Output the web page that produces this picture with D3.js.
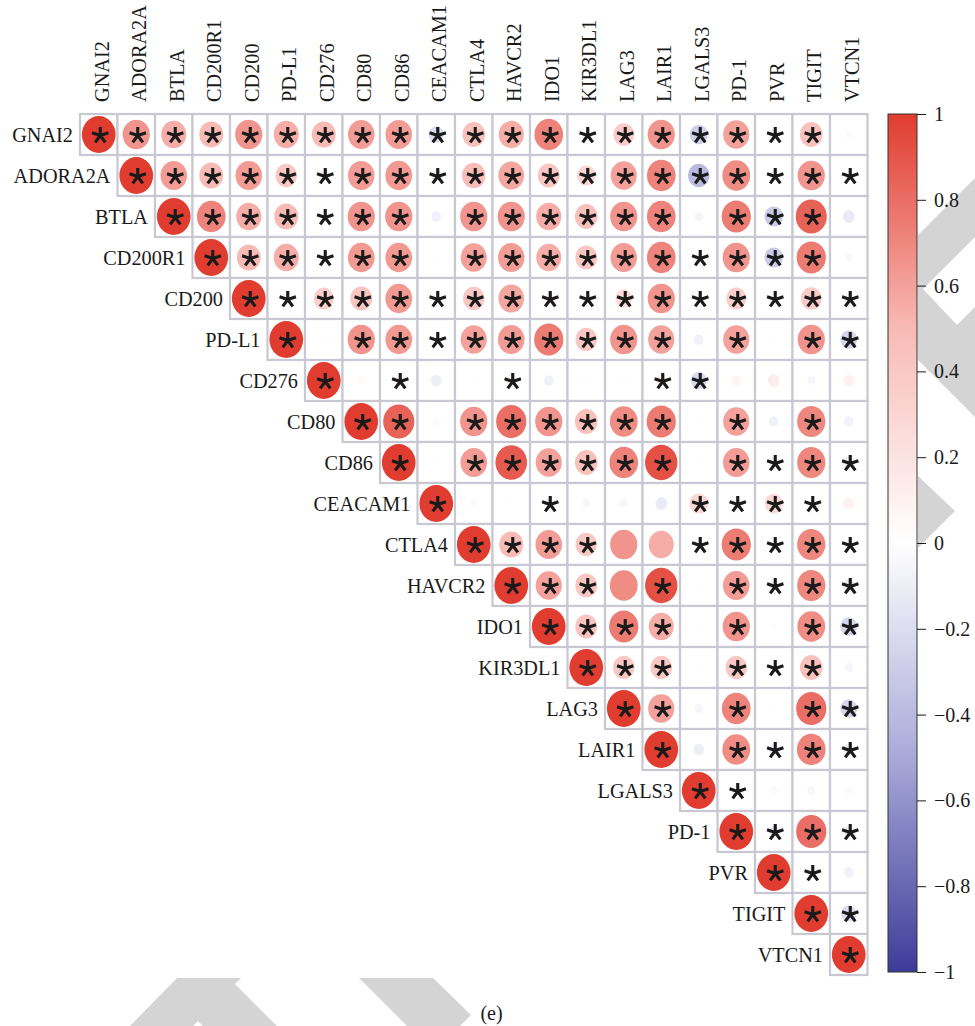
<!DOCTYPE html>
<html>
<head>
<meta charset="utf-8">
<script src="https://cdn.jsdelivr.net/npm/d3@7"></script>
<style>
  html, body { margin: 0; padding: 0; background: #ffffff; }
  svg { display: block; }
</style>
</head>
<body>
<svg id="chart" width="975" height="1026"></svg>
<script>
// Immune checkpoint genes, in matrix order
const genes = ["GNAI2", "ADORA2A", "BTLA", "CD200R1", "CD200", "PD-L1", "CD276", "CD80",
  "CD86", "CEACAM1", "CTLA4", "HAVCR2", "IDO1", "KIR3DL1", "LAG3", "LAIR1", "LGALS3",
  "PD-1", "PVR", "TIGIT", "VTCN1"];

// Upper triangle of the correlation matrix: row i holds r(i, j) for j = i+1 .. 20
const corrUpper = [
  [0.65, 0.55, 0.5, 0.65, 0.55, 0.5, 0.62, 0.62, -0.2, 0.45, 0.55, 0.72, 0.05, 0.38, 0.65, -0.28, 0.6, -0.05, 0.45, -0.03],
  [0.62, 0.5, 0.62, 0.4, 0.08, 0.62, 0.63, -0.1, 0.48, 0.58, 0.42, 0.3, 0.6, 0.72, -0.4, 0.68, 0.05, 0.65, 0.05],
  [0.72, 0.55, 0.5, 0.08, 0.65, 0.65, -0.08, 0.65, 0.65, 0.55, 0.45, 0.65, 0.72, -0.06, 0.75, -0.3, 0.85, -0.12],
  [0.5, 0.55, -0.05, 0.63, 0.63, 0.02, 0.6, 0.62, 0.55, 0.42, 0.62, 0.72, -0.06, 0.65, -0.3, 0.75, -0.04],
  [0.08, 0.35, 0.42, 0.63, 0.06, 0.4, 0.58, 0.08, 0.08, 0.25, 0.65, 0.05, 0.35, 0.05, 0.38, 0.07],
  [0.03, 0.65, 0.63, 0.06, 0.6, 0.62, 0.75, 0.4, 0.65, 0.6, -0.08, 0.6, 0.02, 0.65, -0.25],
  [0.05, 0.08, -0.1, 0.02, 0.1, -0.08, 0.03, 0.02, 0.1, -0.22, 0.08, 0.12, -0.05, 0.1],
  [0.85, 0.04, 0.65, 0.8, 0.65, 0.45, 0.68, 0.75, 0.02, 0.6, -0.08, 0.7, -0.08],
  [0.02, 0.62, 0.88, 0.6, 0.45, 0.72, 0.92, 0.02, 0.62, -0.06, 0.7, -0.1],
  [0.04, 0.02, 0.08, -0.05, -0.05, -0.12, 0.3, 0.05, 0.28, 0.06, 0.1],
  [0.5, 0.62, 0.4, 0.65, 0.55, 0.05, 0.75, 0.05, 0.7, 0.05],
  [0.6, 0.42, 0.68, 0.92, 0.02, 0.62, -0.08, 0.7, -0.12],
  [0.42, 0.75, 0.55, 0.02, 0.65, 0.02, 0.68, -0.25],
  [0.4, 0.4, 0.02, 0.4, 0.06, 0.45, -0.06],
  [0.6, -0.06, 0.72, 0.02, 0.8, -0.25],
  [-0.1, 0.68, -0.08, 0.72, -0.1],
  [0.08, 0.05, -0.05, 0.04],
  [-0.1, 0.8, -0.1],
  [0.07, -0.08],
  [-0.2],
  []
];

// Significance flags (p < 0.05 -> "1"), same layout as corrUpper
const sigUpper = [
  "11111111111111111110",
  "1111111111111111111",
  "111111011111101110",
  "11111011111111110",
  "1111111111111111",
  "011111111101011",
  "01001000110000",
  "1011111101010",
  "011111101111",
  "00100011110",
  "1110011111",
  "110101111",
  "11101011",
  "1101110",
  "101011",
  "01111",
  "1000",
  "111",
  "10",
  "1",
  ""
];

const legendTicks = [1, 0.8, 0.6, 0.4, 0.2, 0, -0.2, -0.4, -0.6, -0.8, -1];
const caption = "(e)";

const svg = d3.select("#chart");
const serif = "'Liberation Serif', 'Times New Roman', serif";

// Light background decoration
const deco = svg.append("g").attr("fill", "#d4d4d4");
[
  [[177, 978], [241, 978], [235, 984], [277, 1026], [203, 1026], [198, 1021], [193, 1026], [130, 1026]],
  [[359, 978], [433, 978], [471, 1015], [460, 1026], [407, 1026]],
  [[918, 235], [975, 178], [975, 237], [923, 289], [957, 325], [975, 307], [975, 417], [918, 360]],
  [[918, 476], [955, 511], [918, 548]]
].forEach(p => deco.append("polygon").attr("points", p.map(d => d.join(",")).join(" ")));

// Scales
const x = d3.scaleBand().domain(genes).range([80, 867.5]);
const y = d3.scaleBand().domain(genes).range([114, 975]);
const color = d3.scaleLinear()
  .domain([-1, -0.5, 0, 0.5, 1])
  .range(["#3c3c98", "#a9a9d9", "#ffffff", "#f8bab5", "#e03c2f"]);

// Build the cell list (diagonal + upper triangle)
const cells = [];
genes.forEach((gi, i) => {
  cells.push({ row: gi, col: gi, r: 1, sig: true });
  corrUpper[i].forEach((v, k) => {
    const j = i + 1 + k;
    cells.push({ row: gi, col: genes[j], r: v, sig: sigUpper[i][k] === "1" });
  });
});
const cx = d => x(d.col) + x.bandwidth() / 2;
const cy = d => y(d.row) + y.bandwidth() / 2;

svg.append("g").selectAll("rect").data(cells).join("rect")
  .attr("x", d => x(d.col)).attr("y", d => y(d.row))
  .attr("width", x.bandwidth()).attr("height", y.bandwidth())
  .attr("fill", "#ffffff").attr("stroke", "#c8c8d3").attr("stroke-width", 2.2);

// Circles: area proportional to |r|
svg.append("g").selectAll("ellipse").data(cells).join("ellipse")
  .attr("cx", cx).attr("cy", cy)
  .attr("rx", d => 0.45 * Math.sqrt(Math.abs(d.r)) * x.bandwidth())
  .attr("ry", d => 0.45 * Math.sqrt(Math.abs(d.r)) * y.bandwidth())
  .attr("fill", d => color(d.r));

// Significance marks: five-armed asterisk
const armLen = 8.6;
const starPath = d3.range(5).map(k => {
  const a = (-90 + 72 * k) * Math.PI / 180;
  return `M0,0L${(armLen * Math.cos(a)).toFixed(2)},${(armLen * Math.sin(a)).toFixed(2)}`;
}).join("");
svg.append("g").selectAll("path").data(cells.filter(d => d.sig)).join("path")
  .attr("transform", d => `translate(${cx(d) + 1.5},${cy(d) + 1})`)
  .attr("d", starPath)
  .attr("fill", "none").attr("stroke", "#1a1a1a").attr("stroke-width", 3.1);

// Row labels
svg.append("g").selectAll("text").data(genes).join("text")
  .attr("x", d => x(d) - 7)
  .attr("y", d => y(d) + y.bandwidth() / 2)
  .attr("dy", "0.35em")
  .attr("text-anchor", "end")
  .attr("font-family", serif).attr("font-size", 20.3).attr("fill", "#1a1a1a")
  .text(d => d);

// Column labels
svg.append("g").selectAll("text").data(genes).join("text")
  .attr("transform", d => `translate(${x(d) + x.bandwidth() / 2 + 10},102) rotate(-90)`)
  .attr("text-anchor", "start")
  .attr("font-family", serif).attr("font-size", 20.3).attr("fill", "#1a1a1a")
  .text(d => d);

// Colour legend
const lg = { x: 888, w: 29, top: 114, bottom: 972 };
const ly = d3.scaleLinear().domain([-1, 1]).range([lg.bottom, lg.top]);
const defs = svg.append("defs");
const grad = defs.append("linearGradient").attr("id", "corrGrad")
  .attr("x1", 0).attr("y1", 1).attr("x2", 0).attr("y2", 0);
d3.range(0, 1.0001, 0.025).forEach(t => {
  grad.append("stop").attr("offset", t).attr("stop-color", color(-1 + 2 * t));
});
svg.append("rect").attr("x", lg.x).attr("y", lg.top)
  .attr("width", lg.w).attr("height", lg.bottom - lg.top)
  .attr("fill", "url(#corrGrad)").attr("stroke", "#333").attr("stroke-width", 1);

const fmt = v => (v < 0 ? "\u2212" : "") + (Math.abs(v) === 1 || v === 0 ? String(Math.abs(v)) : Math.abs(v).toFixed(1));
const axis = svg.append("g").attr("transform", `translate(${lg.x + lg.w},0)`)
  .call(d3.axisRight(ly).tickValues(legendTicks).tickSize(9).tickPadding(8).tickFormat(fmt));
axis.select(".domain").remove();
axis.selectAll(".tick line").attr("stroke", "#1a1a1a");
axis.selectAll(".tick text").attr("font-family", serif).attr("font-size", 20).attr("fill", "#1a1a1a");

// Panel caption
svg.append("text").attr("x", 491.5).attr("y", 1020)
  .attr("text-anchor", "middle").attr("font-family", serif).attr("font-size", 20).attr("fill", "#1a1a1a")
  .text(caption);
</script>
</body>
</html>
